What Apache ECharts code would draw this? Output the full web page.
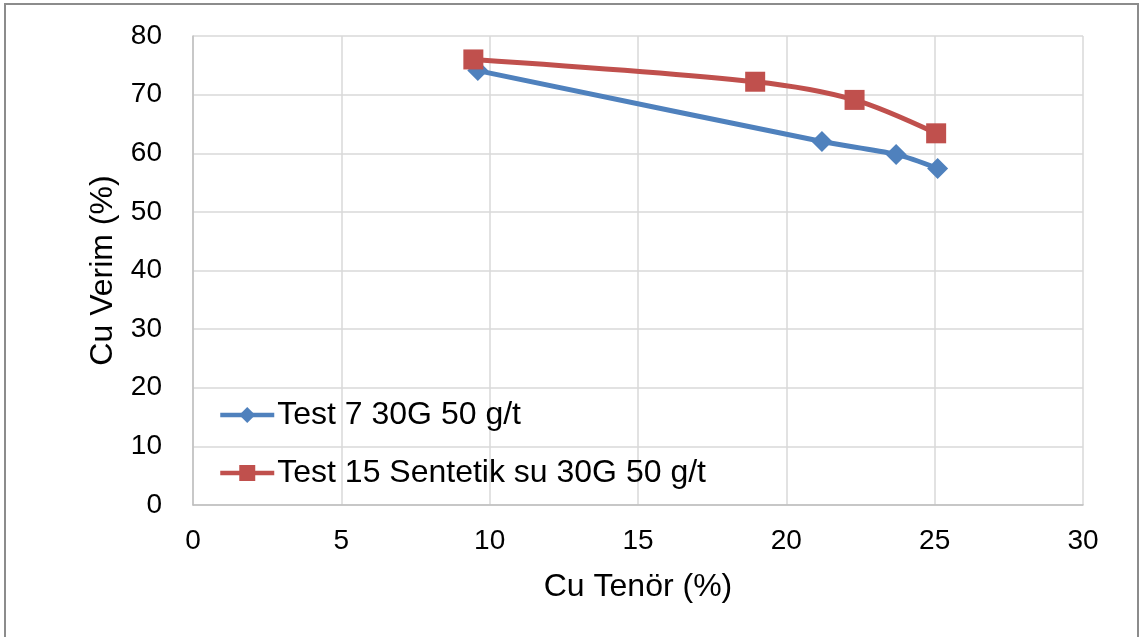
<!DOCTYPE html>
<html>
<head>
<meta charset="utf-8">
<script src="https://cdn.jsdelivr.net/npm/echarts@6/dist/echarts.min.js"></script>
<style>
	html, body { margin: 0; padding: 0; background: #fff; }
	#chart { width: 1140px; height: 637px; }
</style>
</head>
<body>
<div id="chart"></div>
<script>
// veriler
var seriesNames = ['Test 7 30G 50 g/t', 'Test 15 Sentetik su 30G 50 g/t'];
var test7Tenor = [9.6, 21.2, 23.7, 25.1];
var test7Verim = [74.1, 62.0, 59.8, 57.4];
var test15Tenor = [9.45, 18.95, 22.3, 25.05];
var test15Verim = [76.0, 72.2, 69.1, 63.4];

function pairs(xs, ys) {
	var out = [];
	for (var i = 0; i < xs.length; i++) {
		out.push([xs[i], ys[i]]);
	}
	return out;
}

var font = 'Liberation Sans, Arial, sans-serif';
var myChart = echarts.init(document.getElementById('chart'));
var option = {
	backgroundColor: '#fff',
	animation: false,
	graphic: [{
		type: 'rect',
		shape: { x: 5, y: 4, width: 1133, height: 640 },
		style: { fill: 'none', stroke: '#8c8c8c', lineWidth: 2 }
	}],
	grid: { left: 193, right: 57, top: 36, bottom: 132 },
	legend: {
		orient: 'vertical',
		left: 213,
		top: 394,
		itemGap: 26,
		itemWidth: 54,
		itemHeight: 20,
		lineStyle: { width: 4.5 },
		textStyle: { fontFamily: font, fontSize: 32, color: '#000', padding: [0, 0, 0, -2] },
		data: seriesNames
	},
	xAxis: {
		type: 'value',
		min: 0, max: 30, interval: 5,
		name: 'Cu Tenör (%)',
		nameLocation: 'middle',
		nameGap: 66,
		nameTextStyle: { fontFamily: font, fontSize: 32, color: '#000' },
		axisLine: { show: true, lineStyle: { color: '#bfbfbf', width: 1.5 } },
		axisTick: { show: false },
		axisLabel: { fontFamily: font, fontSize: 28, color: '#000', margin: 22 },
		splitLine: { show: true, lineStyle: { color: '#d9d9d9', width: 1.5 } }
	},
	yAxis: {
		type: 'value',
		min: 0, max: 80, interval: 10,
		name: 'Cu Verim (%)',
		nameLocation: 'middle',
		nameGap: 74,
		nameTextStyle: { fontFamily: font, fontSize: 32, color: '#000' },
		axisLine: { show: true, lineStyle: { color: '#bfbfbf', width: 1.5 } },
		axisTick: { show: false },
		axisLabel: { fontFamily: font, fontSize: 28, color: '#000', margin: 31 },
		splitLine: { show: true, lineStyle: { color: '#d9d9d9', width: 1.5 } }
	},
	series: [{
		name: seriesNames[0],
		type: 'line',
		smooth: 0.3,
		data: pairs(test7Tenor, test7Verim),
		symbol: 'diamond',
		symbolSize: 21,
		itemStyle: { color: '#4f81bd' },
		lineStyle: { color: '#4f81bd', width: 5 }
	}, {
		name: seriesNames[1],
		type: 'line',
		smooth: 0.3,
		data: pairs(test15Tenor, test15Verim),
		symbol: 'rect',
		symbolSize: 20,
		itemStyle: { color: '#c0504d' },
		lineStyle: { color: '#c0504d', width: 5 }
	}]
};
myChart.setOption(option);
</script>
</body>
</html>
